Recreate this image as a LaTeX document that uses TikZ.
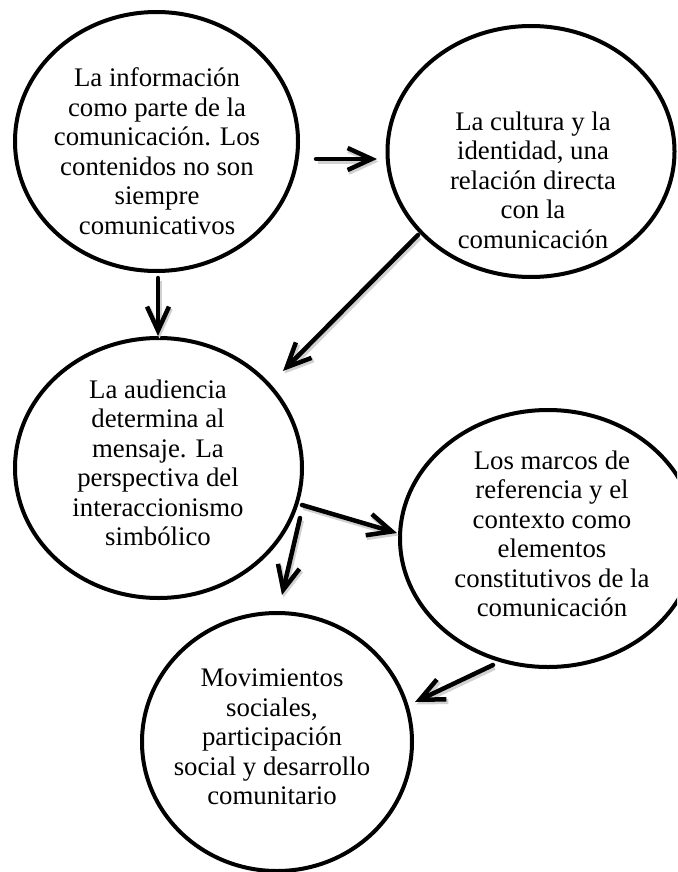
\documentclass[tikz,border=0pt]{standalone}
\usepackage{fontspec}
\setmainfont{Liberation Serif}
\usetikzlibrary{shapes.geometric,arrows.meta}
\begin{document}
\begin{tikzpicture}[x=1pt,y=-1pt,
  bubble/.style={draw=black,line width=4pt,ellipse,inner sep=0pt,fill=none},
  bubtext/.style={align=center,inner sep=0pt,font=\fontsize{26.8}{29.5}\selectfont},
  arr/.style={line width=4.5pt,line cap=round,
    -{Straight Barb[length=24pt,width=22pt]},
    preaction={draw=black!18,line width=5pt,transform canvas={shift={(1.5pt,-2.5pt)}}}}]
\useasboundingbox (0,0) rectangle (677,872);
\clip (0,0) rectangle (677,872);
% bubbles
\node[bubble,minimum width=283pt,minimum height=259pt] (c1) at (156.5,141.5) {};
\node[bubble,minimum width=287pt,minimum height=251pt] (c2) at (531,151.5) {};
\node[bubble,minimum width=287pt,minimum height=260pt] (c3) at (158.5,468) {};
\node[bubble,minimum width=296pt,minimum height=257pt] (c4) at (548,538.5) {};
\node[bubble,minimum width=270pt,minimum height=258pt] (c5) at (277,742) {};
% texts
\node[bubtext] (t1) at (157,151) {La información\\como parte de la\\comunicación. Los\\contenidos no son\\siempre\\comunicativos};
\node[bubtext] (t2) at (533,180) {La cultura y la\\identidad, una\\relación directa\\con la\\comunicación};
\node[bubtext] (t3) at (158,463) {La audiencia\\determina al\\mensaje. La\\perspectiva del\\interaccionismo\\simbólico};
\node[bubtext] (t4) at (552,534) {Los marcos de\\referencia y el\\contexto como\\elementos\\constitutivos de la\\comunicación};
\node[bubtext] (t5) at (272,737) {Movimientos\\sociales,\\participación\\social y desarrollo\\comunitario};
% arrow end points
\coordinate (a1s) at (316,159); \coordinate (a1e) at (377,159);
\coordinate (a2s) at (158,278); \coordinate (a2e) at (158,336);
\coordinate (a3s) at (418,235); \coordinate (a3e) at (283,371);
\coordinate (a4s) at (302,505); \coordinate (a4e) at (397,533);
\coordinate (a5s) at (300,518); \coordinate (a5e) at (282,595);
\coordinate (a6s) at (493,665); \coordinate (a6e) at (415,702);
\draw[arr] (a1s) -- (a1e);
\draw[arr] (a2s) -- (a2e);
\draw[arr] (a3s) -- (a3e);
\draw[arr] (a4s) -- (a4e);
\draw[arr] (a5s) -- (a5e);
\draw[arr] (a6s) -- (a6e);
\end{tikzpicture}
\end{document}
